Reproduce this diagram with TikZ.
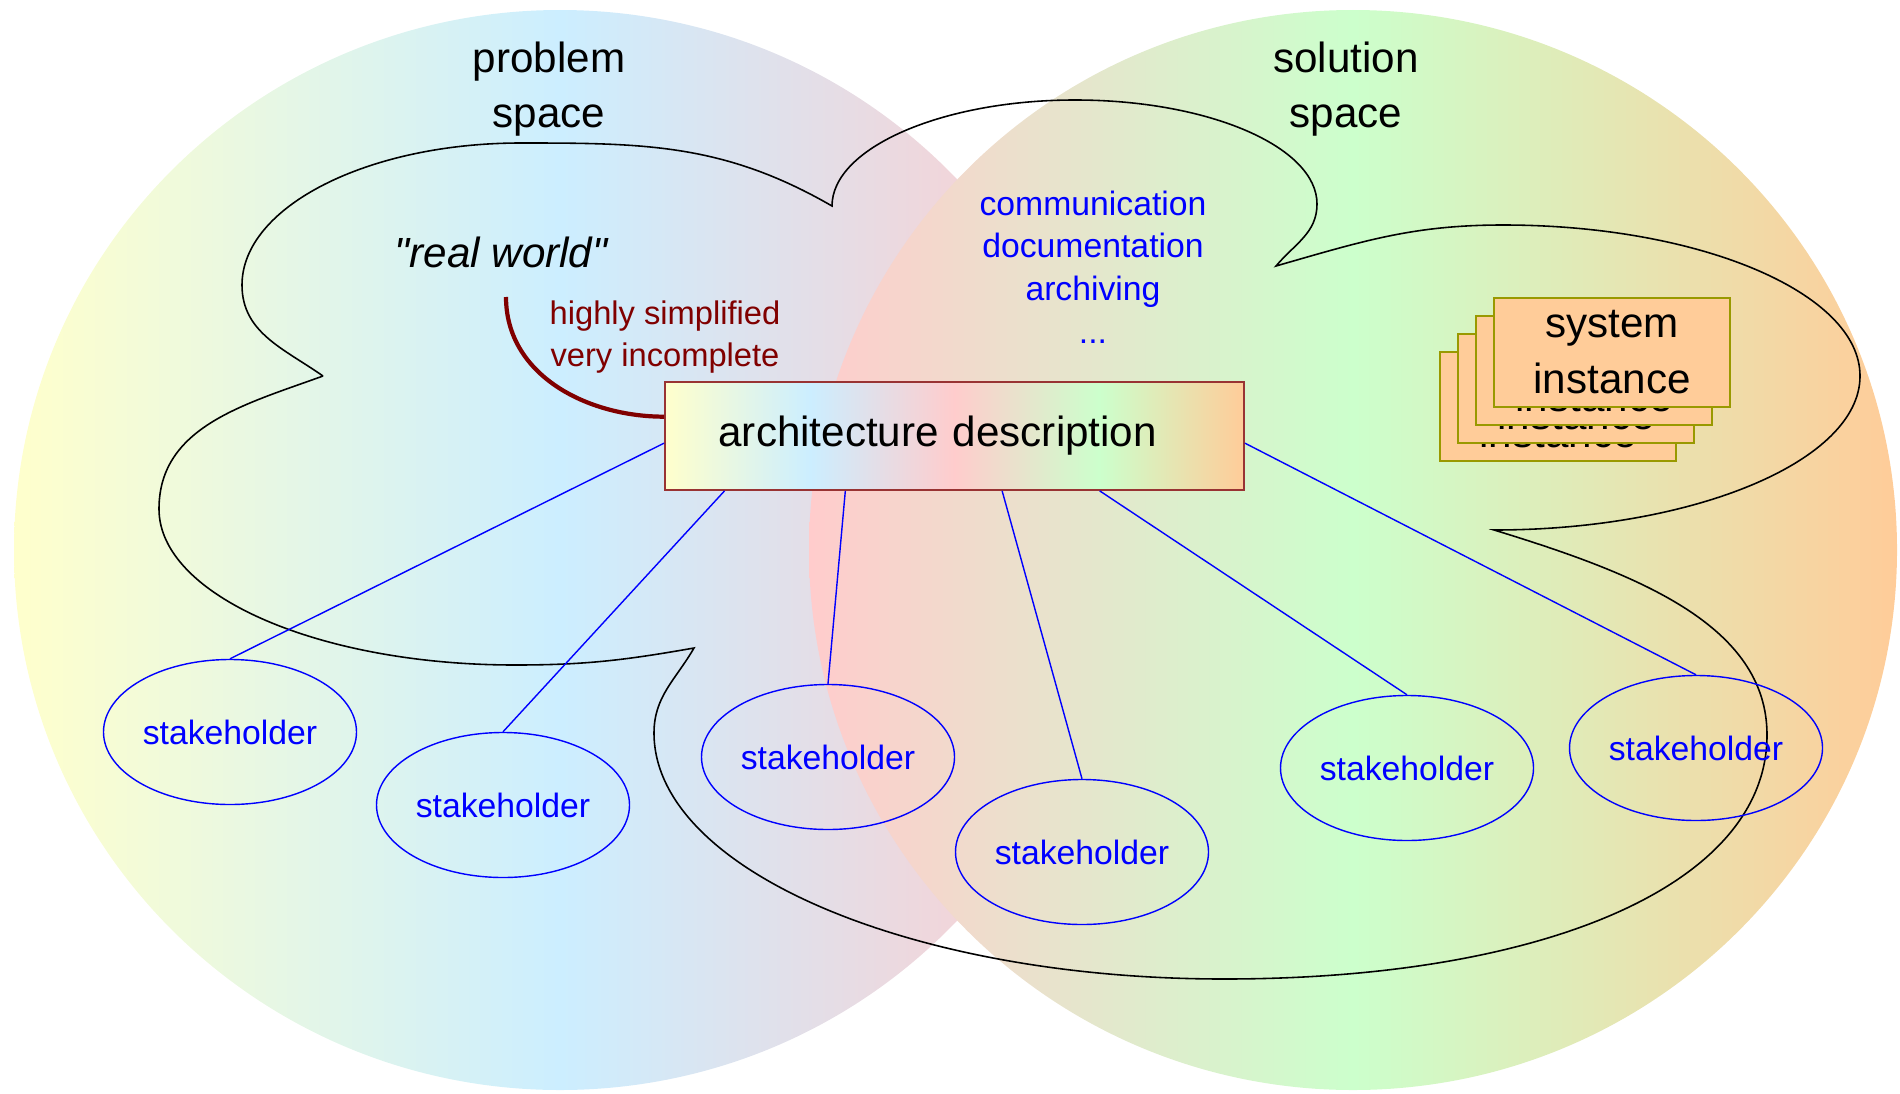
\documentclass[tikz,border=0pt]{standalone}
\usepackage{fontspec}
\setmainfont{Liberation Sans}
\newfontfamily\plainsans{Liberation Sans}
\usetikzlibrary{shapes}
\usetikzlibrary{positioning}
\usetikzlibrary{calc}
\definecolor{shyellow}{RGB}{255,255,204}
\definecolor{shblue}{RGB}{204,238,255}
\definecolor{shpink}{RGB}{255,204,204}
\definecolor{shgreen}{RGB}{204,255,204}
\definecolor{shorange}{RGB}{255,204,153}
\definecolor{boxred}{RGB}{153,51,51}
\definecolor{darkred}{RGB}{128,0,0}
\definecolor{olivedge}{RGB}{153,153,0}
\definecolor{peach}{RGB}{255,204,153}
\pgfdeclarehorizontalshading{spectrum}{100bp}{color(0bp)=(shyellow); color(25bp)=(shyellow); color(37.5bp)=(shblue); color(50bp)=(shpink); color(62.5bp)=(shgreen); color(75bp)=(shorange); color(100bp)=(shorange)}
\tikzset{
    bigtext/.style = {align=center, inner sep=0pt, font=\fontsize{12}{15.5}\selectfont},
    bluetext/.style = {align=center, inner sep=0pt, text=blue, font=\fontsize{9.6}{12.1}\selectfont},
    redtext/.style = {align=center, inner sep=0pt, text=darkred, font=\fontsize{9.3}{11.7}\selectfont},
    stake/.style = {ellipse, draw=blue, line width=0.4pt, text=blue, minimum width=2.53cm, minimum height=1.45cm, inner sep=0pt, font=\fontsize{9.6}{12}\selectfont},
    instbox/.style = {rectangle, draw=olivedge, line width=0.5pt, fill=peach, minimum width=2.36cm, minimum height=1.09cm, inner sep=0pt, align=center, font=\fontsize{12}{15.9}\selectfont},
    archbox/.style = {rectangle, draw=boxred, line width=0.5pt, shading=spectrum, minimum height=1.08cm, text width=4.72cm, inner xsep=0.535cm, inner ysep=0pt, align=left, font=\fontsize{12}{15.5}\selectfont},
    sklink/.style = {draw=blue, line width=0.4pt},
    redarc/.style = {draw=darkred, line width=1.2pt},
    cloudline/.style = {draw=black, line width=0.45pt}
}

\begin{document}
\begin{tikzpicture}
\useasboundingbox (0,0) rectangle (19,10.93);
%
\path[left color=shyellow,right color=shpink,middle color=shblue] (5.60,5.43) ellipse (5.46 and 5.40);
\path[left color=shpink,right color=shorange,middle color=shgreen] (13.53,5.43) ellipse (5.44 and 5.40);
%
\draw[cloudline] (3.23,7.17) to[out=145,in=-90] (2.42,8.08)
    .. controls +(90:0.78) and +(180:1.54) .. (5.21,9.50)
    to[out=0,in=150] (8.32,8.87)
    .. controls +(90:0.58) and +(180:1.33) .. (10.75,9.93)
    .. controls +(0:1.34) and +(90:0.57) .. (13.17,8.89)
    to[out=-90,in=50] (12.76,8.27)
    to[out=16,in=180] (15.03,8.68)
    .. controls +(0:1.97) and +(90:0.83) .. (18.60,7.17)
    .. controls +(-90:0.85) and +(0:2.0) .. (14.94,5.63)
    .. controls +(-17:1.5) and +(90:1.1) .. (17.67,3.58)
    .. controls +(-90:1.5) and +(0:3.2) .. (12.24,1.14)
    .. controls +(180:3.15) and +(-90:1.36) .. (6.54,3.60)
    to[out=90,in=240] (6.94,4.45)
    to[out=190,in=0] (5.15,4.28)
    .. controls +(180:1.97) and +(-90:0.86) .. (1.59,5.84)
    to[out=90,in=200] (3.23,7.17);
%
\node[bigtext] at (5.49,10.04) (prob) {problem\\space};
\node[bigtext] at (13.46,10.04) (sol) {solution\\space};
\node[bigtext,font=\fontsize{12}{15.5}\plainsans\itshape] at (5.01,8.41) (rw) {"real world"};
\node[redtext] at (6.65,7.56) (simp) {highly simplified\\very incomplete};
\node[bluetext] at (10.93,8.26) (uses) {communication\\documentation\\archiving\\...};
%
\node[archbox] at (9.545,6.57) (ad) {architecture description};
%
\node[instbox] at (15.58,6.865) (si1) {system\\instance};
\node[instbox] at (15.76,7.045) (si2) {system\\instance};
\node[instbox] at (15.94,7.225) (si3) {system\\instance};
\node[instbox] at (16.12,7.405) (si4) {system\\instance};
%
\node[stake] at (2.30,3.61) (s1) {stakeholder};
\node[stake] at (5.03,2.88) (s2) {stakeholder};
\node[stake] at (8.28,3.36) (s3) {stakeholder};
\node[stake] at (10.82,2.41) (s4) {stakeholder};
\node[stake] at (14.07,3.25) (s5) {stakeholder};
\node[stake] at (16.96,3.45) (s6) {stakeholder};
%
\draw[sklink] ($(ad.north west)!0.565!(ad.south west)$) -- (s1.north);
\draw[sklink] ($(ad.south west)!0.104!(ad.south east)$) -- (s2.north);
\draw[sklink] ($(ad.south west)!0.312!(ad.south east)$) -- (s3.north);
\draw[sklink] ($(ad.south west)!0.582!(ad.south east)$) -- (s4.north);
\draw[sklink] ($(ad.south west)!0.75!(ad.south east)$) -- (s5.north);
\draw[sklink] ($(ad.north east)!0.565!(ad.south east)$) -- (s6.north);
%
\coordinate (rwfoot) at (5.06,7.96);
\draw[redarc] (rwfoot) to[out=-90,in=180] ($(ad.north west)!0.324!(ad.south west)$);

\end{tikzpicture}
\end{document}
